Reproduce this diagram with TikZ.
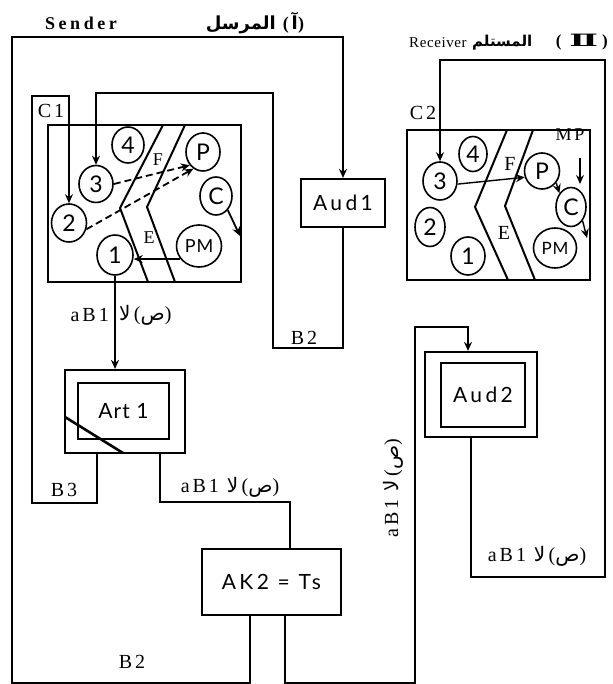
\documentclass[tikz,border=0pt]{standalone}
\usepackage{fontspec}
\setmainfont{Liberation Serif}[LetterSpace=15]
\newfontfamily\sansf{Lato}[LetterSpace=16]
\newfontfamily\sansn{Lato}[LetterSpace=5]
\newfontfamily\numf{DejaVu Serif}
\newfontfamily\arabicfont[Script=Arabic]{DejaVu Sans}
\TeXXeTstate=1
\usetikzlibrary{arrows.meta,shapes.geometric}
\newcommand\lamalef{{\arabicfont\beginR لا\endR}}
\newcommand\sadp{({\arabicfont\beginR ص\endR})}
\newcommand\abone{aB1\ \lamalef\,\sadp}
\begin{document}
\begin{tikzpicture}[x=1pt,y=-1pt,
  ln/.style={line width=1.8pt},
  arr/.style={line width=1.8pt,-{Stealth[length=9pt,width=8pt,inset=3pt]}},
  dsh/.style={dash pattern=on 7pt off 4pt},
  frm/.style={draw,line width=2.2pt},
  circ/.style={draw,ellipse,line width=1.6pt,inner sep=0pt,font=\sansn\fontsize{23}{23}\selectfont},
  bx/.style={draw,line width=2.2pt,inner sep=0pt,font=\sansf\fontsize{21}{21}\selectfont},
  lbl/.style={inner sep=0pt,font=\fontsize{20}{20}\selectfont},
  hdr/.style={inner sep=0pt,font=\fontsize{18}{18}\selectfont\bfseries},
]
\useasboundingbox (0,0) rectangle (612,684);
% headers
\node[hdr] (sender) at (81,23) {\addfontfeatures{LetterSpace=20}Sender};
\node[hdr] (senderar) at (255,23) {{\arabicfont\beginR المرسل\endR} (\textbf{\arabicfont آ})};
\node[inner sep=0pt,anchor=west,font=\fontsize{15}{15}\selectfont] (receiver) at (409,43) {\addfontfeatures{LetterSpace=4}Receiver};
\node[inner sep=0pt,anchor=west,font=\fontsize{15}{15}\selectfont\bfseries] (receiverar) at (472,43) {{\arabicfont\beginR المستلم\endR}};
\node[inner sep=0pt,anchor=east,font=\fontsize{17}{17}\selectfont\bfseries] (receiverno) at (608,42) {(\hspace{8pt}\scalebox{2}[1]{\numf\bfseries Ⅱ}\hspace{4pt})};
% frames
\draw[frm] (48,125) rectangle (241,282);
\draw[frm] (407,130) rectangle (590,280);
\node[lbl] (c1lbl) at (51,111) {C1};
\node[lbl] (c2lbl) at (423,113) {C2};
% chevrons C1
\draw[line width=2pt] (163,125) -- (120,208) -- (148,282);
\draw[line width=2pt] (185,125) -- (147,207) -- (175,282);
\node[lbl,font=\fontsize{18}{18}\selectfont] (fa) at (158,160) {F};
\node[lbl,font=\fontsize{18}{18}\selectfont] (ea) at (149,238) {E};
% chevrons C2
\draw[line width=2pt] (507,130) -- (475,207) -- (508,280);
\draw[line width=2pt] (533,130) -- (505,206) -- (535,280);
\node[lbl] (fb) at (510,164) {F};
\node[lbl] (eb) at (504,233) {E};
\node[lbl,font=\fontsize{18}{18}\selectfont] (mp) at (570,135) {MP};
% circles C1
\node[circ,minimum width=32pt,minimum height=36pt] (c4) at (128,145) {4};
\node[circ,minimum width=34pt,minimum height=37pt] (c3) at (96,184) {3};
\node[circ,minimum width=35pt,minimum height=38pt] (c2) at (69,223) {2};
\node[circ,minimum width=36pt,minimum height=40pt] (c1) at (115,255) {1};
\node[circ,minimum width=34pt,minimum height=38pt] (cP) at (203,152) {P};
\node[circ,minimum width=32pt,minimum height=38pt] (cC) at (216,196) {C};
\node[circ,minimum width=45pt,minimum height=42pt,font=\sansn\fontsize{18}{18}\selectfont] (cPM) at (199,246) {PM};
% circles C2
\node[circ,minimum width=28pt,minimum height=35pt] (d4) at (473,154) {4};
\node[circ,minimum width=34pt,minimum height=38pt] (d3) at (440,181) {3};
\node[circ,minimum width=30pt,minimum height=39pt] (d2) at (430,227) {2};
\node[circ,minimum width=34pt,minimum height=38pt] (d1) at (468,256) {1};
\node[circ,minimum width=35pt,minimum height=36pt] (dP) at (542,171) {P};
\node[circ,minimum width=30pt,minimum height=39pt] (dC) at (571,207) {C};
\node[circ,minimum width=43pt,minimum height=40pt,font=\sansn\fontsize{17}{17}\selectfont] (dPM) at (555,248) {PM};
% boxes
\node[bx,minimum width=84pt,minimum height=48pt] (aud1) at (343,203) {Aud1};
\node[draw,line width=2.2pt,minimum width=120pt,minimum height=83pt] (art1o) at (125,411.5) {};
\node[bx,minimum width=91pt,minimum height=56pt,font=\sansn\fontsize{21}{21}\selectfont] (art1) at (123.5,411) {Art 1};
\draw[line width=2.6pt] (65,417) -- (123,453);
\node[bx,minimum width=139pt,minimum height=66pt] (ak2) at (271.5,582) {AK2 = Ts};
\node[draw,line width=2.2pt,minimum width=112pt,minimum height=85pt] (aud2o) at (481,394.5) {};
\node[bx,minimum width=84pt,minimum height=64pt] (aud2) at (483,395) {Aud2};
% internal arrows C1
\draw[arr,dsh] (c3.east) -- (cP.225);
\draw[arr,dsh] (c2.-20) -- (cP.240);
\coordinate (cend) at (240,236);
\draw[arr] (cC.-50) -- (cend);
\draw[arr] (cPM.215) -- (c1.east |- cPM.215);
% internal arrows C2
\draw[arr,line width=1.4pt] (d3.-10) -- (dP.200);
\draw[arr,line width=1.4pt] (dP.-40) -- (dC.130);
\coordinate (mpa) at (580,158);
\coordinate (mpb) at (580,184);
\draw[arr,line width=1.4pt] (mpa) -- (mpb);
\coordinate (dend) at (587,238);
\draw[arr,line width=1.4pt] (dC.-50) -- (dend);
% connectors
\draw[arr] ([xshift=-21.5pt]ak2.south) -- (250,683) -- (12,683) -- (12,37) -- (343,37) -- (aud1.north);
\node[lbl] (b2bot) at (132,662) {B2};
\draw[arr] (aud1.south) -- (343,348) -- (273,348) -- (273,93) -- (96,93) -- (c3.north);
\node[lbl] (b2mid) at (304,338) {B2};
\draw[arr] ([xshift=-28pt]art1o.south) -- (97,503) -- (32,503) -- (32,96) -- (69,96) -- (c2.north);
\node[lbl] (b3) at (64,490) {B3};
\draw[arr] (c1.south) -- (c1.south |- art1o.north);
\node[lbl,anchor=east] (lab1a) at (109,315) {aB1};
\node[lbl,anchor=west] (lab1b) at (119,315) {\lamalef\,\sadp};
\draw[ln] ([xshift=35pt]art1o.south) -- (160,502) -- (290,502) -- ([xshift=18.5pt]ak2.north);
\node[lbl] (lab2) at (230,487) {\abone};
\draw[arr] ([xshift=13.5pt]ak2.south) -- (285,683) -- (415,683) -- (415,327) -- (468,327) -- ([xshift=-13pt]aud2o.north);
\node[lbl,rotate=90] (lab4) at (393,488) {\abone};
\draw[arr] ([xshift=-10pt]aud2o.south) -- (471,577) -- (605,577) -- (605,60) -- (440,60) -- (d3.north);
\node[lbl] (lab3) at (537,556) {\abone};
\end{tikzpicture}
\end{document}
